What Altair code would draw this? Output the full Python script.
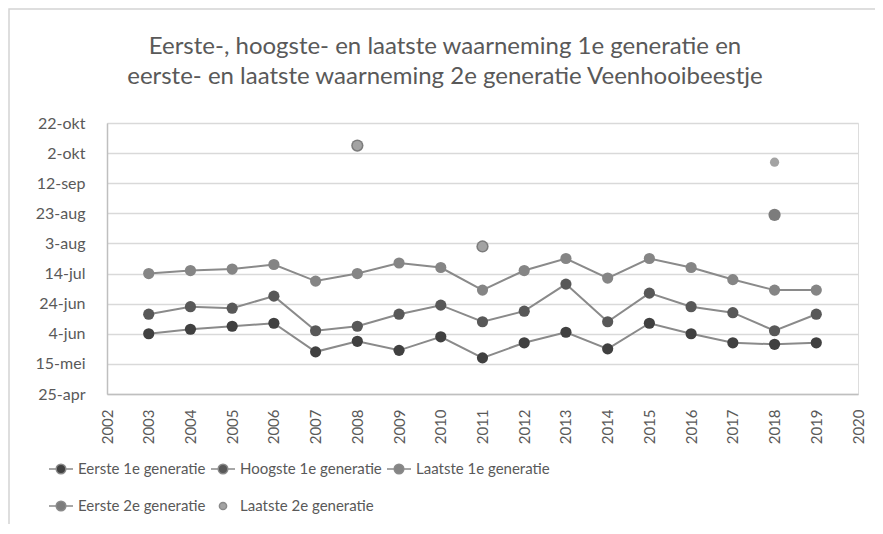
import datetime as dt
import altair as alt
import pandas as pd

TITLE = ["Eerste-, hoogste- en laatste waarneming 1e generatie en",
         "eerste- en laatste waarneming 2e generatie Veenhooibeestje"]

YEARS = list(range(2003, 2020))
EERSTE_1E = ["06-04", "06-07", "06-09", "06-11", "05-23", "05-30", "05-24", "06-02", "05-19",
             "05-29", "06-05", "05-25", "06-11", "06-04", "05-29", "05-28", "05-29"]
HOOGSTE_1E = ["06-17", "06-22", "06-21", "06-29", "06-06", "06-09", "06-17", "06-23", "06-12",
              "06-19", "07-07", "06-12", "07-01", "06-22", "06-18", "06-06", "06-17"]
LAATSTE_1E = ["07-14", "07-16", "07-17", "07-20", "07-09", "07-14", "07-21", "07-18", "07-03",
              "07-16", "07-24", "07-11", "07-24", "07-18", "07-10", "07-03", "07-03"]
YEARS_2E = [2008, 2011, 2018]
EERSTE_2E = ["10-07", "08-01", "08-22"]
LAATSTE_2E = ["10-07", "08-01", "09-26"]

SERIES = ["Eerste 1e generatie", "Hoogste 1e generatie", "Laatste 1e generatie",
          "Eerste 2e generatie", "Laatste 2e generatie"]
COLORS = ["#404040", "#585858", "#858585", "#7c7c7c", "#a3a3a3"]
SIZES = [125, 125, 125, 150, 85]
LINE_AND_DOT = "M-1,0H-0.4M0.4,0H1M0.4,0A0.4,0.4,0,1,1,-0.4,0A0.4,0.4,0,1,1,0.4,0Z"
DOT_ONLY = "M0.3,0A0.3,0.3,0,1,1,-0.3,0A0.3,0.3,0,1,1,0.3,0Z"
LEGEND_SHAPES = [LINE_AND_DOT, LINE_AND_DOT, LINE_AND_DOT, LINE_AND_DOT, DOT_ONLY]
TICK_LABELS = ["25-apr", "15-mei", "4-jun", "24-jun", "14-jul", "3-aug",
               "23-aug", "12-sep", "2-okt", "22-okt"]
X_TICKS = list(range(2002, 2021))

BASE = dt.date(2001, 4, 25)


def day(s):
    m, d = s.split("-")
    return (dt.date(2001, int(m), int(d)) - BASE).days


rows = []
for name, yrs, vals in [(SERIES[0], YEARS, EERSTE_1E), (SERIES[1], YEARS, HOOGSTE_1E),
                        (SERIES[2], YEARS, LAATSTE_1E), (SERIES[3], YEARS_2E, EERSTE_2E),
                        (SERIES[4], YEARS_2E, LAATSTE_2E)]:
    for y, v in zip(yrs, vals):
        rows.append({"jaar": y, "dag": day(v), "reeks": name})
df = pd.DataFrame(rows)
# legend-only rows, placed outside the y domain and clipped away
legend_df = pd.DataFrame({"jaar": [2010] * 5, "dag": [-500] * 5, "reeks": SERIES})

label_expr = "[" + ",".join("'%s'" % t for t in TICK_LABELS) + "][round(datum.value/20)]"

FONT = "Lato"
GRAY = "#595959"

x = alt.X("jaar:Q", scale=alt.Scale(domain=[2002, 2020], nice=False, zero=False),
          axis=alt.Axis(values=X_TICKS, format="d", labelAngle=270, grid=False, ticks=False,
                        domainColor="#bfbfbf", domainWidth=1.5, labelFont=FONT, labelFontSize=15,
                        labelColor=GRAY, labelPadding=15, title=None, labelOverlap=False,
                        labelFlush=False))
y = alt.Y("dag:Q", scale=alt.Scale(domain=[0, 180], nice=False, zero=False),
          axis=alt.Axis(values=list(range(0, 181, 20)), labelExpr=label_expr, ticks=False,
                        grid=True, gridColor="#d9d9d9", gridWidth=1.5, domainColor="#bfbfbf",
                        domainWidth=1.5, labelFont=FONT, labelFontSize=16, labelColor=GRAY,
                        labelPadding=22, title=None))

one = pd.DataFrame({"f": [0]})

frame = alt.Chart(one).mark_rect(
    fill=None, stroke="#d4d4d4", strokeWidth=1.5, clip=False
).encode(x=alt.value(-98), x2=alt.value(900), y=alt.value(-114), y2=alt.value(600))

title = alt.Chart(one).mark_text(
    font=FONT, fontSize=24, color=GRAY, align="center", baseline="middle",
    lineBreak="\n", lineHeight=30
).encode(x=alt.value(338), y=alt.value(-76), text=alt.value("\n".join(TITLE)))

lines = alt.Chart(df).transform_filter(
    alt.FieldOneOfPredicate(field="reeks", oneOf=SERIES[:3])
).mark_line(color="#8a8a8a", strokeWidth=2).encode(
    x=x, y=y, detail="reeks:N"
)

point_layers = []
for name, col, sz in zip(SERIES, COLORS, SIZES):
    point_layers.append(
        alt.Chart(df).transform_filter(alt.datum.reeks == name)
        .mark_point(filled=True, opacity=1, fill=col, strokeWidth=0, size=sz, shape="circle")
        .encode(x=x, y=y)
    )

leg = alt.Legend(title=None, orient="none", legendX=-59, legendY=333, columns=3,
                 direction="horizontal", symbolSize=576, labelFont=FONT,
                 labelFontSize=15, labelColor=GRAY, labelOffset=4,
                 rowPadding=16, columnPadding=2, labelLimit=300)

legend_layer = alt.Chart(legend_df).mark_point(
    filled=True, clip=True, stroke="#8a8a8a", strokeWidth=1.5, opacity=1, size=576
).encode(
    x=x, y=y,
    fill=alt.Fill("reeks:N", scale=alt.Scale(domain=SERIES, range=COLORS), legend=leg),
    shape=alt.Shape("reeks:N", scale=alt.Scale(domain=SERIES, range=LEGEND_SHAPES), legend=leg),
)

chart = alt.layer(frame, title, lines, *point_layers, legend_layer).properties(
    width=751, height=271,
    autosize=alt.AutoSizeParams(type="none"),
    padding={"left": 99, "top": 115, "right": 17, "bottom": 130},
).configure_view(stroke=None).configure(background="white")

chart.save("out.html", embed_options={"renderer": "svg", "actions": False})
